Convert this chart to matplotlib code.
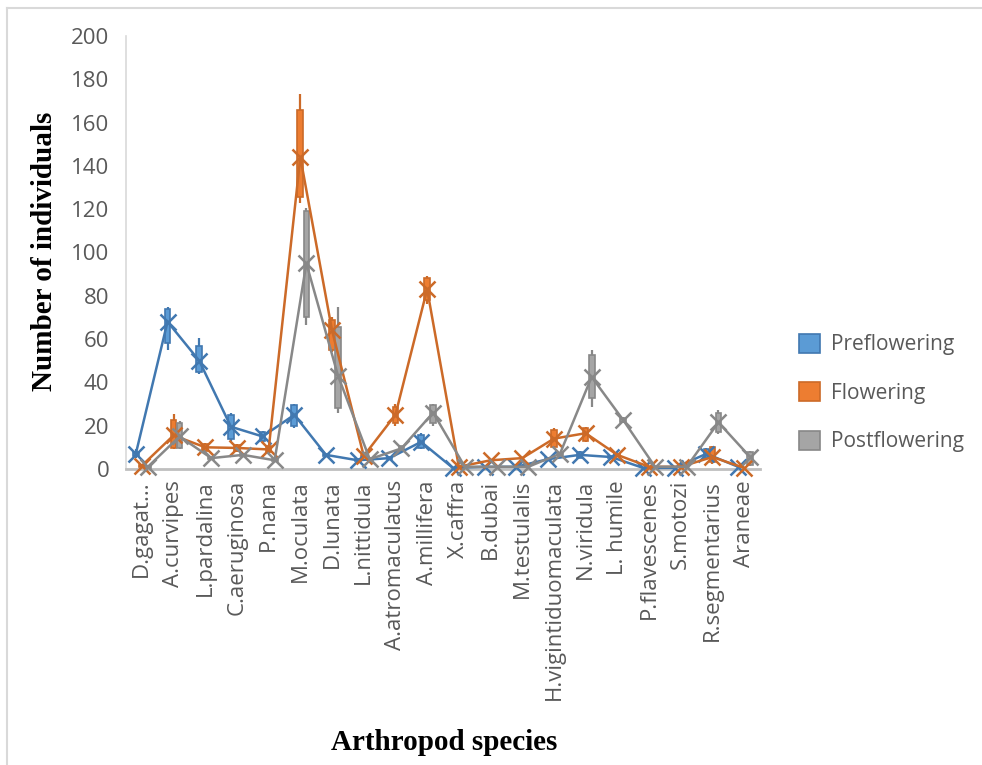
import matplotlib
matplotlib.use("Agg")
import matplotlib.pyplot as plt
import numpy as np
from matplotlib.lines import Line2D
from matplotlib.patches import Patch, Rectangle

species = ["D.gagat...", "A.curvipes", "L.pardalina", "C.aeruginosa", "P.nana",
           "M.oculata", "D.lunata", "L.nittidula", "A.atromaculatus", "A.millifera",
           "X.caffra", "B.dubai", "M.testulalis", "H.vigintiduomaculata", "N.viridula",
           "L. humile", "P.flavescenes", "S.motozi", "R.segmentarius", "Araneae"]

# Preflowering
pre_mean = [7, 68, 50, 19.5, 15, 25, 6.5, 4, 5, 12.5, 0.5, 1, 1, 4.5, 6.5, 5.5, 0.5, 0.5, 7, 1]
pre_lo   = [6, 58, 45, 14, 13, 20, 6, 3.5, 4.5, 9.7, 0.5, 1, 1, 4, 5, 5, 0.5, 0.5, 5, 1]
pre_hi   = [8, 74, 57, 25, 17, 29.5, 7, 4.5, 5.5, 15.7, 0.5, 1, 1, 5, 8, 6, 0.5, 0.5, 9, 1]
pre_wlo  = [5, 55, 44, 13, 12, 19, 6, 3.5, 4.5, 9, 0.5, 1, 1, 4, 5, 5, 0.5, 0.5, 4.5, 1]
pre_whi  = [9, 75, 60.5, 26, 17.5, 30, 7, 4.5, 5.5, 16.5, 0.5, 1, 1, 5, 8.5, 6, 0.5, 0.5, 9.5, 1]

# Flowering
flo_mean = [1.5, 15.5, 10, 9.7, 9, 144, 64, 6, 25, 83, 1, 4, 5, 14, 16.5, 6.5, 1, 1, 5.5, 0.5]
flo_lo   = [1, 9.7, 8.5, 8.5, 8, 125.5, 55, 5.5, 21, 78, 1, 4, 5, 10, 13, 6, 1, 1, 3, 0.5]
flo_hi   = [2, 22.5, 11.5, 11, 10.5, 166, 69, 6.5, 28.5, 88, 1, 4, 5, 18, 19, 7, 1, 1, 10, 0.5]
flo_wlo  = [1, 9, 8, 8, 7.5, 123, 54, 5.5, 20, 76, 1, 4, 5, 9.5, 12.5, 6, 1, 1, 2.5, 0.5]
flo_whi  = [2, 25.5, 12, 11.5, 11, 173, 70, 6.5, 30, 89, 1, 4, 5, 19, 19.5, 7, 1, 1, 10.5, 0.5]

# Postflowering
post_mean = [1, 15, 5, 6.5, 4, 95, 43, 4.5, 9.5, 26, 1, 1, 1, 7, 42.5, 22.5, 1, 1, 21.5, 5.5]
post_lo   = [0.5, 9.7, 4.5, 6, 3.5, 70, 28, 4, 8.5, 21, 1, 1, 1, 6.5, 32.8, 21.5, 1, 1, 17, 2]
post_hi   = [1.5, 21, 5.5, 7, 4.5, 119, 65.5, 5, 10.5, 29.5, 1, 1, 1, 7.5, 52.7, 23.5, 1, 1, 26, 8]
post_wlo  = [0.5, 9, 4.5, 6, 3.5, 66.5, 26, 4, 8.5, 20, 1, 1, 1, 6.5, 28.5, 21, 1, 1, 16, 1.5]
post_whi  = [1.5, 22, 5.5, 7, 4.5, 120.5, 75, 5, 10.5, 30, 1, 1, 1, 7.5, 55, 24, 1, 1, 27, 8.5]

series = [
    ("Preflowering", pre_mean, pre_lo, pre_hi, pre_wlo, pre_whi, "#5b9bd5", "#4178b0", -0.19),
    ("Flowering", flo_mean, flo_lo, flo_hi, flo_wlo, flo_whi, "#ed7d31", "#cc6a28", 0.0),
    ("Postflowering", post_mean, post_lo, post_hi, post_wlo, post_whi, "#a5a5a5", "#888888", 0.19),
]

fig = plt.figure(figsize=(9.82, 7.65), dpi=100)
ax = fig.add_axes([0.1283, 0.387, 0.6456, 0.566])

x = np.arange(len(species))
box_w = 0.18
for name, mean, lo, hi, wlo, whi, fill, dark, off in series:
    xs = x + off
    ax.vlines(xs, wlo, whi, color=dark, lw=1.6, zorder=2)
    for xi, l, h in zip(xs, lo, hi):
        if h - l > 0.6:
            ax.add_patch(Rectangle((xi - box_w / 2, l), box_w, h - l, facecolor=fill,
                                   edgecolor=dark, lw=1.2, zorder=3))
    ax.plot(xs, mean, color=dark, lw=1.8, marker="x", markersize=11, mew=1.8,
            zorder=4, clip_on=False)

ax.set_xlim(-0.5, len(species) - 0.5)
ax.set_ylim(0, 200)
ax.set_yticks(np.arange(0, 201, 20))
ax.set_xticks(x)
ax.set_xticklabels(species, rotation=90, va="top", ha="center")
ax.tick_params(length=0, colors="#595959")
ax.tick_params(axis="x", labelsize=16, pad=8)
ax.tick_params(axis="y", labelsize=16, pad=12)
for lab in ax.get_xticklabels() + ax.get_yticklabels():
    lab.set_family("Open Sans")
for s in ["top", "right"]:
    ax.spines[s].set_visible(False)
ax.spines["left"].set_color("#d9d9d9")
ax.spines["left"].set_linewidth(1.2)
ax.spines["bottom"].set_color("#bfbfbf")
ax.spines["bottom"].set_linewidth(2)

fig.text(0.045, 0.672, "Number of individuals", rotation=90, ha="center", va="center",
         family="Liberation Serif", weight="bold", fontsize=21)
fig.text(0.452, 0.030, "Arthropod species", ha="center", va="center",
         family="Liberation Serif", weight="bold", fontsize=21)

handles = [Patch(facecolor=s[6], edgecolor=s[7], lw=1.2) for s in series]
leg = fig.legend(handles, [s[0] for s in series], loc="center left",
                 bbox_to_anchor=(0.795, 0.486), frameon=False,
                 prop={"family": "Open Sans", "size": 15}, labelspacing=1.3,
                 handlelength=1.0, handleheight=1.0, handletextpad=0.5)
for t in leg.get_texts():
    t.set_color("#595959")

# outer chart frame (left and top edges only visible)
fig.add_artist(Line2D([7 / 982, 7 / 982], [0, 1 - 8 / 765], color="#d9d9d9", lw=1.5))
fig.add_artist(Line2D([7 / 982, 1], [1 - 8 / 765, 1 - 8 / 765], color="#d9d9d9", lw=1.5))

fig.savefig("out.png", dpi=100)
